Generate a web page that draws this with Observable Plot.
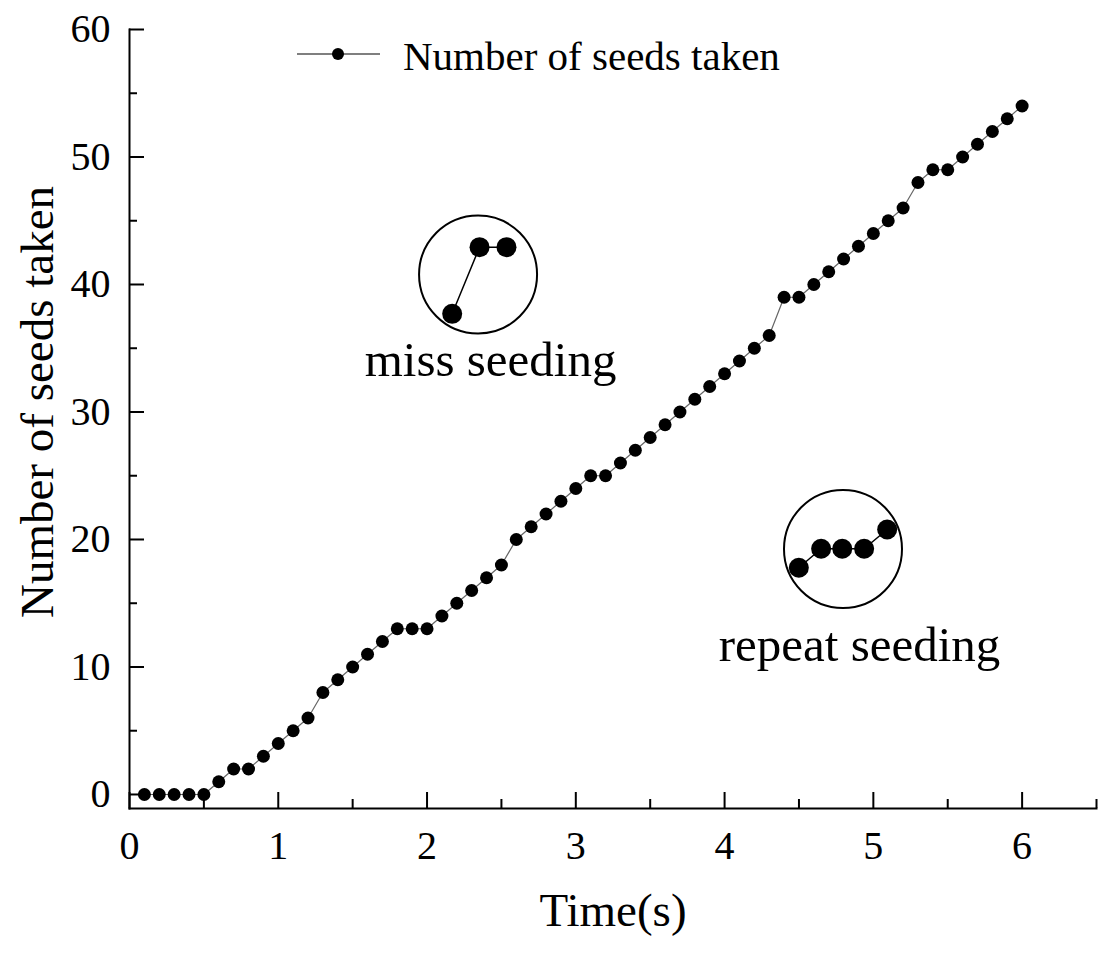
<!DOCTYPE html>
<html><head><meta charset="utf-8">
<script src="https://cdn.jsdelivr.net/npm/d3@7"></script>
<script src="https://cdn.jsdelivr.net/npm/@observablehq/plot@0.6"></script>
<style>html,body{margin:0;padding:0;background:#fff;}</style>
</head><body><div id="chart"></div>
<script>
// ---- data ----
const time = [0.1,0.2,0.3,0.4,0.5,0.6,0.7,0.8,0.9,1.0,
              1.1,1.2,1.3,1.4,1.5,1.6,1.7,1.8,1.9,2.0,
              2.1,2.2,2.3,2.4,2.5,2.6,2.7,2.8,2.9,3.0,
              3.1,3.2,3.3,3.4,3.5,3.6,3.7,3.8,3.9,4.0,
              4.1,4.2,4.3,4.4,4.5,4.6,4.7,4.8,4.9,5.0,
              5.1,5.2,5.3,5.4,5.5,5.6,5.7,5.8,5.9,6.0];
const seeds = [0,0,0,0,0,1,2,2,3,4,
               5,6,8,9,10,11,12,13,13,13,
               14,15,16,17,18,20,21,22,23,24,
               25,25,26,27,28,29,30,31,32,33,
               34,35,36,39,39,40,41,42,43,44,
               45,46,48,49,49,50,51,52,53,54];

const xMajorTicks = [0,1,2,3,4,5,6];
const xMinorTicks = [0.5,1.5,2.5,3.5,4.5,5.5,6.5];
const yMajorTicks = [0,10,20,30,40,50,60];
const yMinorTicks = [5,15,25,35,45,55];

const seriesLabel = "Number of seeds taken";
const xTitle = "Time(s)";
const yTitle = "Number of seeds taken";

// annotation call-outs (positions read in data units)
const annotationLabels = ["miss seeding", "repeat seeding"];
const annotationX = [2.427, 4.907];
const annotationY = [32.86, 10.5];
const calloutCircleX = [2.343, 4.796];
const calloutCircleY = [40.78, 19.25];
const missInsetX = [2.169, 2.353, 2.534];
const missInsetY = [37.70, 42.93, 42.93];
const repeatInsetX = [4.499, 4.649, 4.791, 4.938, 5.093];
const repeatInsetY = [17.78, 19.27, 19.27, 19.27, 20.78];

// ---- build tables ----
const series = time.map((t, i) => ({t, n: seeds[i]}));
const annotations = annotationLabels.map((label, i) => ({label, x: annotationX[i], y: annotationY[i]}));
const circles = calloutCircleX.map((x, i) => ({x, y: calloutCircleY[i]}));
const missInset = missInsetX.map((x, i) => ({x, y: missInsetY[i]}));
const repeatInset = repeatInsetX.map((x, i) => ({x, y: repeatInsetY[i]}));

const W = 1113, H = 955;
const mL = 129, mR = 17, mT = 29, mB = 147;
const plotW = W - mL - mR, plotH = H - mT - mB;
const font = "'Liberation Serif', 'Times New Roman', serif";

function legendMark() {
  const g = d3.create("svg:g");
  g.append("line").attr("x1", 297).attr("x2", 380).attr("y1", 54).attr("y2", 54)
    .attr("stroke", "#555").attr("stroke-width", 1.3);
  g.append("circle").attr("cx", 338).attr("cy", 54).attr("r", 6).attr("fill", "#000");
  g.append("text").attr("x", 403).attr("y", 70).attr("font-size", 41)
    .attr("text-anchor", "start")
    .attr("font-family", font).attr("fill", "#000").text(seriesLabel);
  return g.node();
}

const chart = Plot.plot({
  width: W, height: H,
  marginLeft: mL, marginRight: mR, marginTop: mT, marginBottom: mB,
  style: {fontFamily: font, fontSize: "40px", background: "#fff", color: "#000"},
  x: {domain: [0, 6.5]},
  y: {domain: [-1.1, 60]},
  marks: [
    // axis lines
    Plot.frame({anchor: "left", strokeWidth: 2, stroke: "#000"}),
    Plot.frame({anchor: "bottom", strokeWidth: 2, stroke: "#000"}),
    // inward ticks
    Plot.tickY(yMajorTicks, {y: d => d, insetRight: plotW - 15, strokeWidth: 2, stroke: "#000"}),
    Plot.tickY(yMinorTicks, {y: d => d, insetRight: plotW - 8, strokeWidth: 2, stroke: "#000"}),
    Plot.tickX(xMajorTicks, {x: d => d, insetTop: plotH - 16, strokeWidth: 2, stroke: "#000"}),
    Plot.tickX(xMinorTicks, {x: d => d, insetTop: plotH - 9, strokeWidth: 2, stroke: "#000"}),
    // tick labels
    Plot.axisY({ticks: yMajorTicks, tickSize: 0, tickPadding: 19, label: null, fontSize: 40, tickFormat: d3.format("d")}),
    Plot.axisX({ticks: xMajorTicks, tickSize: 0, tickPadding: 22, label: null, fontSize: 40, tickFormat: d3.format("d")}),
    // axis titles
    Plot.text([xTitle], {frameAnchor: "bottom", text: d => d, textAnchor: "middle", lineAnchor: "bottom", dy: 117, fontSize: 47}),
    Plot.text([yTitle], {frameAnchor: "left", text: d => d, textAnchor: "middle", rotate: -90, lineAnchor: "bottom", dx: -77, dy: -17, fontSize: 47}),
    // series
    Plot.line(series, {x: "t", y: "n", stroke: "#666", strokeWidth: 1.2}),
    Plot.dot(series, {x: "t", y: "n", r: 6.5, fill: "#000"}),
    // call-outs
    Plot.dot(circles, {x: "x", y: "y", r: 59, fill: "none", stroke: "#000", strokeWidth: 2}),
    Plot.line(missInset, {x: "x", y: "y", stroke: "#000", strokeWidth: 1.5}),
    Plot.dot(missInset, {x: "x", y: "y", r: 10, fill: "#000"}),
    Plot.line(repeatInset, {x: "x", y: "y", stroke: "#000", strokeWidth: 1.5}),
    Plot.dot(repeatInset, {x: "x", y: "y", r: 10, fill: "#000"}),
    Plot.text(annotations, {x: "x", y: "y", text: "label", textAnchor: "middle", lineAnchor: "bottom", fontSize: 49}),
    // legend
    legendMark
  ]
});
document.getElementById("chart").appendChild(chart);
</script>
</body></html>
